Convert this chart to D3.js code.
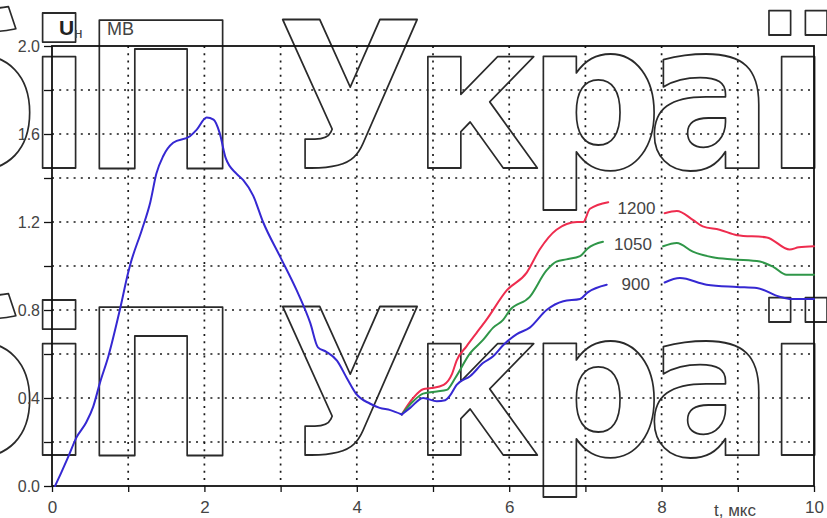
<!DOCTYPE html>
<html>
<head>
<meta charset="utf-8">
<script src="https://cdn.jsdelivr.net/npm/d3@7"></script>
<style>
  html, body { margin: 0; padding: 0; background: #ffffff; }
  svg { display: block; }
</style>
</head>
<body>
<svg id="chart" width="827" height="518"></svg>
<script>
// Shared front of the voltage wave, t in мкс, U in МВ
const commonT = [0.04, 0.12, 0.21, 0.32, 0.45, 0.54, 0.63, 0.74, 0.89, 1.00, 1.03, 1.18, 1.29, 1.37, 1.46, 1.59, 1.81, 1.90, 2.03, 2.12, 2.20, 2.28, 2.42, 2.51, 2.64, 2.77, 2.99, 3.21, 3.39, 3.49, 3.60, 3.74, 3.87, 4.00, 4.17, 4.30, 4.44, 4.59];
const commonU = [0.00, 0.06, 0.13, 0.22, 0.29, 0.36, 0.47, 0.59, 0.80, 0.97, 1.01, 1.165, 1.29, 1.42, 1.50, 1.56, 1.59, 1.62, 1.675, 1.665, 1.605, 1.49, 1.42, 1.39, 1.32, 1.20, 1.045, 0.89, 0.74, 0.63, 0.61, 0.57, 0.49, 0.415, 0.375, 0.355, 0.345, 0.325];

// Branches after the split; null marks the break where the curve label sits
const seriesNames = ["1200", "1050", "900"];
const t1200 = [4.59, 4.74, 4.87, 4.98, 5.14, 5.25, 5.31, 5.44, 5.57, 5.70, 5.97, 6.23, 6.40, 6.62, 6.89, 6.97, 7.06, 7.30, null, 8.04, 8.20, 8.41, 8.54, 8.76, 8.99, 9.38, 9.68, 9.80, 10.0];
const u1200 = [0.325, 0.40, 0.44, 0.445, 0.46, 0.51, 0.57, 0.635, 0.695, 0.755, 0.89, 0.97, 1.075, 1.165, 1.20, 1.20, 1.26, 1.29, null, 1.24, 1.25, 1.21, 1.18, 1.165, 1.14, 1.13, 1.075, 1.085, 1.09];
const t1050 = [4.59, 4.74, 4.87, 5.05, 5.18, 5.29, 5.49, 5.66, 5.79, 5.92, 6.01, 6.27, 6.49, 6.62, 6.75, 6.93, 7.03, 7.23, null, 8.02, 8.20, 8.41, 8.67, 8.94, 9.29, 9.47, 9.64, 10.0];
const u1050 = [0.325, 0.385, 0.42, 0.43, 0.437, 0.49, 0.605, 0.665, 0.72, 0.755, 0.80, 0.86, 0.98, 1.02, 1.03, 1.045, 1.08, 1.11, null, 1.09, 1.105, 1.065, 1.04, 1.03, 1.02, 0.995, 0.96, 0.96];
const t900 = [4.59, 4.70, 4.87, 5.05, 5.16, 5.22, 5.31, 5.49, 5.66, 5.79, 5.92, 6.10, 6.27, 6.49, 6.71, 6.93, 7.03, 7.28, null, 8.04, 8.24, 8.59, 8.99, 9.25, 9.55, 9.70, 10.0];
const u900 = [0.325, 0.355, 0.40, 0.385, 0.39, 0.41, 0.46, 0.50, 0.56, 0.59, 0.64, 0.69, 0.72, 0.80, 0.84, 0.85, 0.88, 0.915, null, 0.925, 0.945, 0.915, 0.905, 0.90, 0.86, 0.85, 0.85];

// Axis ticks
const xTickValues = [0, 1, 2, 3, 4, 5, 6, 7, 8, 9, 10];
const xTickLabels = ["0", "", "2", "", "4", "", "6", "", "8", "", "10"];
const yTickValues = [0, 0.2, 0.4, 0.6, 0.8, 1.0, 1.2, 1.4, 1.6, 1.8, 2.0];
const yTickLabels = ["0.0", "", "0.4", "", "0.8", "", "1.2", "", "1.6", "", "2.0"];

// Large outlined lettering behind the plot
const markGlyphs = ["б", "і", "П", "У", "к", "р", "а", "ї"];

const seriesColors = { "1200": "#ee2c4e", "1050": "#2f9648", "900": "#3528d2" };
const commonColor = "#3528d2";

const svg = d3.select("#chart");
const W = 827, H = 518;
const plot = { left: 52, right: 814, top: 46, bottom: 486 };

const x = d3.scaleLinear().domain([0, 10]).range([plot.left, plot.right]);
const y = d3.scaleLinear().domain([0, 2.0]).range([plot.bottom, plot.top]);

svg.append("rect").attr("width", W).attr("height", H).attr("fill", "#ffffff");

// dotted grid
const grid = svg.append("g").attr("stroke", "#1a1a1a").attr("stroke-width", 1.7)
  .attr("stroke-dasharray", "2,5.2");
grid.selectAll("line.v").data(xTickValues.filter(d => d > 0 && d < 10)).join("line")
  .attr("x1", d => x(d)).attr("x2", d => x(d))
  .attr("y1", plot.top).attr("y2", plot.bottom);
grid.selectAll("line.h").data(yTickValues.filter(d => d > 0 && d < 2)).join("line")
  .attr("x1", plot.left).attr("x2", plot.right)
  .attr("y1", d => y(d)).attr("y2", d => y(d));

// outlined lettering, two rows
const markLayout = { size: 203, squeeze: 0.93, baselines: [168, 455], centers: [-28, 59, 161, 350, 476, 595, 710, 798] };
const mark = svg.append("g")
  .attr("font-family", "'DejaVu Sans', sans-serif")
  .attr("font-weight", "bold")
  .attr("font-size", markLayout.size)
  .attr("fill", "none")
  .attr("stroke", "#2a2a2a")
  .attr("stroke-width", 1.8)
  .attr("stroke-linejoin", "round");
markLayout.baselines.forEach(b => {
  mark.append("g").selectAll("text").data(markGlyphs).join("text")
    .attr("text-anchor", "middle")
    .attr("transform", (d, i) => `translate(${markLayout.centers[i]},${b}) scale(${markLayout.squeeze},1)`)
    .text(d => d);
});

// axes
const font = "'Liberation Sans', Arial, sans-serif";
const yAxis = d3.axisLeft(y).tickValues(yTickValues)
  .tickFormat((d, i) => yTickLabels[i]).tickSize(8).tickPadding(4);
const gy = svg.append("g").attr("transform", `translate(${plot.left},0)`).call(yAxis);
gy.select(".domain").remove();
gy.selectAll(".tick line").attr("stroke", "#111").attr("stroke-width", 1.3);
gy.selectAll(".tick text").attr("font-family", font).attr("font-size", 16).attr("fill", "#444");

const xAxis = d3.axisBottom(x).tickValues(xTickValues)
  .tickFormat((d, i) => xTickLabels[i]).tickSize(6).tickPadding(9);
const gx = svg.append("g").attr("transform", `translate(0,${plot.bottom})`).call(xAxis);
gx.select(".domain").remove();
gx.selectAll(".tick line").attr("stroke", "#111").attr("stroke-width", 1.3);
gx.selectAll(".tick text").attr("font-family", font).attr("font-size", 17).attr("fill", "#444");

// frame
svg.append("rect")
  .attr("x", plot.left).attr("y", plot.top)
  .attr("width", plot.right - plot.left).attr("height", plot.bottom - plot.top)
  .attr("fill", "none").attr("stroke", "#111").attr("stroke-width", 1.8);

// curves
const line = d3.line()
  .defined(d => d[0] !== null && d[1] !== null)
  .x(d => x(d[0])).y(d => y(d[1]))
  .curve(d3.curveMonotoneX);

const curves = svg.append("g").attr("fill", "none").attr("stroke-width", 2)
  .attr("stroke-linejoin", "round").attr("stroke-linecap", "round");

const branches = [
  { name: "1200", t: t1200, u: u1200 },
  { name: "1050", t: t1050, u: u1050 },
  { name: "900", t: t900, u: u900 }
];
branches.forEach(s => {
  curves.append("path")
    .attr("stroke", seriesColors[s.name])
    .attr("d", line(s.t.map((t, i) => [t, s.u[i]])));
});
curves.append("path")
  .attr("stroke", commonColor)
  .attr("d", line(commonT.map((t, i) => [t, commonU[i]])));

// curve labels sit in the middle of each break
branches.forEach(s => {
  const k = s.t.indexOf(null);
  const tm = (s.t[k - 1] + s.t[k + 1]) / 2;
  const um = (s.u[k - 1] + s.u[k + 1]) / 2;
  svg.append("text")
    .attr("x", x(tm)).attr("y", y(um))
    .attr("dy", "0.36em")
    .attr("text-anchor", "middle")
    .attr("font-family", font).attr("font-size", 17).attr("fill", "#444")
    .text(s.name);
});

// axis titles
const ylab = svg.append("text").attr("font-family", font).attr("fill", "#222");
ylab.append("tspan").attr("x", 59).attr("y", 35).attr("font-size", 21).attr("font-weight", "bold").text("U");
ylab.append("tspan").attr("dy", 3).attr("font-size", 15).attr("fill", "#444").text("н");
svg.append("text").attr("x", 107).attr("y", 35)
  .attr("font-family", font).attr("font-size", 18).attr("fill", "#444").text("МВ");
svg.append("text").attr("x", 714).attr("y", 516)
  .attr("font-family", font).attr("font-size", 17).attr("fill", "#444").text("t, мкс");
</script>
</body>
</html>
